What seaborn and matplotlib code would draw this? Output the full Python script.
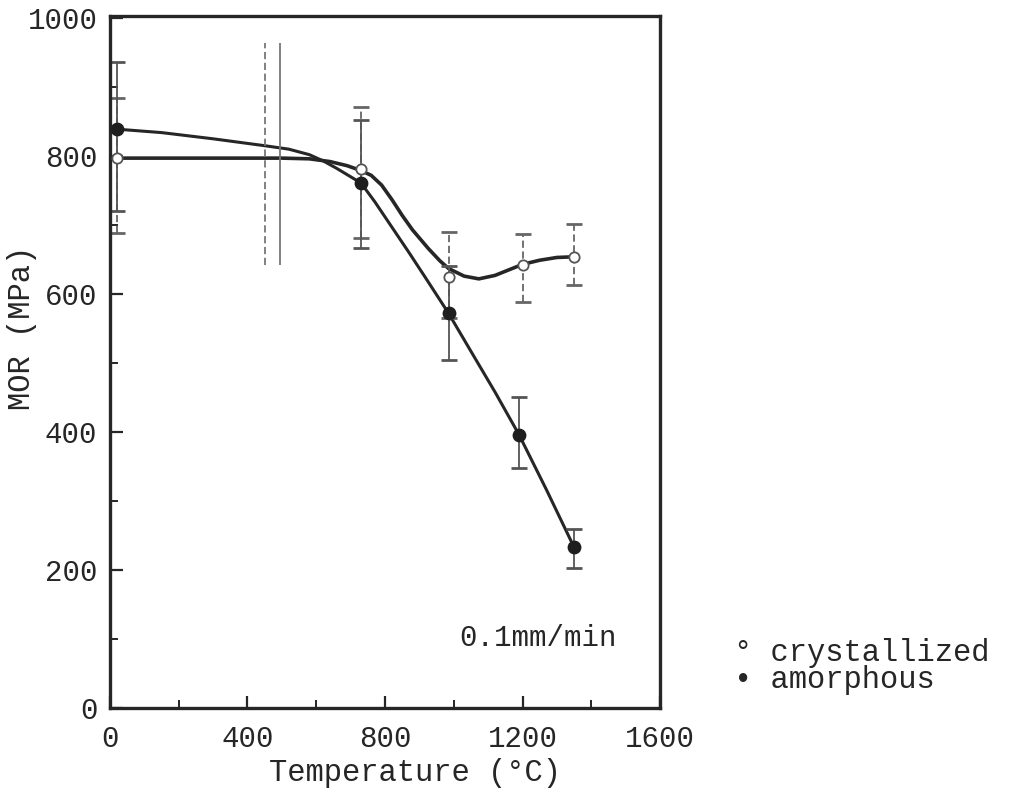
import numpy as np
import pandas as pd
import matplotlib
matplotlib.use("Agg")
import matplotlib.pyplot as plt
import seaborn as sns

# ---- data ----
cryst_t = [20, 730, 985, 1200, 1350]
cryst_mor = [797, 781, 625, 642, 654]
cryst_lo = [688, 681, 565, 588, 613]
cryst_hi = [884, 871, 690, 687, 701]
amor_t = [20, 730, 985, 1190, 1350]
amor_mor = [839, 761, 572, 396, 233]
amor_lo = [720, 667, 504, 348, 203]
amor_hi = [936, 852, 640, 451, 259]

# hand-drawn smooth curves
cryst_curve_t = [20, 200, 400, 500, 580, 640, 690, 730, 760, 790, 820, 850, 880, 926,
                 960, 985, 1030, 1073, 1120, 1170, 1200, 1250, 1300, 1350]
cryst_curve_v = [797, 797, 797, 797, 796, 792, 786, 779, 772, 758, 737, 714, 693, 666,
                 648, 637, 626, 622, 627, 637, 643, 649, 653, 654]
amor_curve_t = [20, 150, 300, 450, 520, 580, 620, 660, 700, 730, 770, 820, 870, 920,
                985, 1050, 1120, 1190, 1270, 1350]
amor_curve_v = [839, 834, 825, 815, 810, 802, 793, 782, 770, 761, 734, 697, 660, 622,
                572, 517, 458, 396, 316, 233]

# uncapped bars near 450-500 C
vbar_x = [450, 495]
vbar_lo = [642, 642]
vbar_hi = [964, 964]

x_ticks = [0, 400, 800, 1200, 1600]
y_ticks = [0, 200, 400, 600, 800, 1000]
x_label = "Temperature (°C)"
y_label = "MOR (MPa)"
note = "0.1mm/min"
legend_labels = ["crystallized", "amorphous"]

# ---- plotting ----
sns.set_theme(style="ticks")
plt.rcParams["font.family"] = ["Liberation Mono", "DejaVu Sans Mono"]

fig = plt.figure(figsize=(10.2, 7.9), dpi=100)
ax = fig.add_axes([110 / 1020, 1 - 708 / 790, 550 / 1020, 692 / 790])

ink = "#262626"

df_c = pd.DataFrame({"T": cryst_curve_t, "MOR": cryst_curve_v})
df_a = pd.DataFrame({"T": amor_curve_t, "MOR": amor_curve_v})
sns.lineplot(data=df_c, x="T", y="MOR", ax=ax, color=ink, lw=2.6, estimator=None, sort=True)
sns.lineplot(data=df_a, x="T", y="MOR", ax=ax, color=ink, lw=2.2, estimator=None, sort=True)

# error bars
c_err = [np.array(cryst_mor) - np.array(cryst_lo), np.array(cryst_hi) - np.array(cryst_mor)]
a_err = [np.array(amor_mor) - np.array(amor_lo), np.array(amor_hi) - np.array(amor_mor)]
eb1 = ax.errorbar(cryst_t, cryst_mor, yerr=c_err, fmt="none", ecolor="#666666",
                  elinewidth=1.3, capsize=6, capthick=2.0, zorder=2)
eb1[2][0].set_linestyle((0, (4, 2)))
ax.errorbar(amor_t, amor_mor, yerr=a_err, fmt="none", ecolor="#555555",
            elinewidth=1.3, capsize=6, capthick=2.0, zorder=2)

ax.vlines(vbar_x[0], vbar_lo[0], vbar_hi[0], colors="#777777", lw=1.3, linestyles=(0, (4, 2)))
ax.vlines(vbar_x[1], vbar_lo[1], vbar_hi[1], colors="#777777", lw=1.3)

# markers
df_pc = pd.DataFrame({"T": cryst_t, "MOR": cryst_mor})
df_pa = pd.DataFrame({"T": amor_t, "MOR": amor_mor})
sns.scatterplot(data=df_pc, x="T", y="MOR", ax=ax, s=55, color="white",
                edgecolor="#555555", linewidth=1.3, zorder=5)
sns.scatterplot(data=df_pa, x="T", y="MOR", ax=ax, s=80, color="#1e1e1e",
                edgecolor="#1e1e1e", linewidth=1, zorder=6)

ax.set_xlim(0, 1600)
ax.set_ylim(0, 1003)
ax.set_xticks(x_ticks)
ax.set_yticks(y_ticks)
ax.set_xticks(np.arange(200, 1600, 400), minor=True)
ax.set_yticks(np.arange(100, 1000, 200), minor=True)
ax.tick_params(axis="both", which="major", direction="in", length=9, width=1.6,
               labelsize=21, colors=ink, pad=9)
ax.tick_params(axis="both", which="minor", direction="in", length=6, width=1.4, colors=ink)
ax.tick_params(axis="x", which="major", pad=12)

for s in ax.spines.values():
    s.set_linewidth(2.4)
    s.set_color(ink)

ax.set_xlabel(x_label, fontsize=22, color=ink)
ax.set_ylabel(y_label, fontsize=22, color=ink)
ax.xaxis.set_label_coords(0.555, -0.072)
ax.yaxis.set_label_coords(-0.133, 0.55)

ax.text(1016, 101, note, fontsize=21, color=ink, ha="left", va="center")

fig.text(734 / 1020, 1 - 653 / 790, "° " + legend_labels[0], fontsize=22, color=ink,
         ha="left", va="center")
fig.text(734 / 1020, 1 - 680 / 790, "• " + legend_labels[1], fontsize=22, color=ink,
         ha="left", va="center")

fig.savefig("out.png", dpi=100, facecolor="white")
